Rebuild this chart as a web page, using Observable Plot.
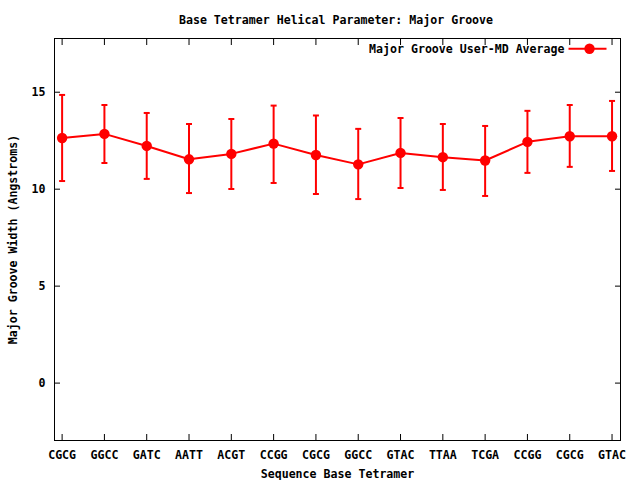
<!DOCTYPE html>
<html>
<head>
<meta charset="utf-8">
<script src="https://cdn.jsdelivr.net/npm/d3@7"></script>
<script src="https://cdn.jsdelivr.net/npm/@observablehq/plot@0.6"></script>
<style>
  html, body { margin: 0; padding: 0; background: #ffffff; }
  #chart svg { display: block; }
</style>
</head>
<body>
<div id="chart"></div>
<script>
const tetramers = ["CGCG","GGCC","GATC","AATT","ACGT","CCGG","CGCG","GGCC","GTAC","TTAA","TCGA","CCGG","CGCG","GTAC"];
const grooveMean = [12.64, 12.85, 12.23, 11.54, 11.82, 12.35, 11.76, 11.28, 11.87, 11.65, 11.48, 12.44, 12.73, 12.73];
const grooveHigh = [14.86, 14.34, 13.93, 13.36, 13.62, 14.31, 13.80, 13.11, 13.67, 13.36, 13.26, 14.04, 14.34, 14.55];
const grooveLow  = [10.42, 11.35, 10.53, 9.80, 10.01, 10.32, 9.75, 9.49, 10.06, 9.96, 9.65, 10.84, 11.15, 10.94];
const yTicks = [0, 5, 10, 15];
const titleText = "Base Tetramer Helical Parameter: Major Groove";
const xLabel = "Sequence Base Tetramer";
const yLabel = "Major Groove Width (Angstroms)";
const seriesName = "Major Groove User-MD Average";

const rows = tetramers.map((t, i) => ({i, t, mean: grooveMean[i], hi: grooveHigh[i], lo: grooveLow[i]}));
const idx = rows.map(d => d.i);

const hline = {
  draw(context, size) {
    const w = Math.sqrt(size / Math.PI);
    context.moveTo(-w, 0);
    context.lineTo(w, 0);
  }
};

const red = "#ff0000";
const font = "'DejaVu Sans Mono', monospace";

const chart = Plot.plot({
  width: 640,
  height: 480,
  marginLeft: 54,
  marginRight: 20,
  marginTop: 38,
  marginBottom: 40,
  style: {fontFamily: font, fontSize: "11.6px", fontWeight: "bold", background: "#ffffff", color: "#000"},
  x: {type: "linear", domain: [-0.18, 13.2]},
  y: {domain: [-2.96, 17.77]},
  marks: [
    Plot.frame({stroke: "#000", strokeWidth: 1}),
    // axes: labels
    Plot.axisX({anchor: "bottom", ticks: idx, tickFormat: i => tetramers[i], tickSize: 0, tickPadding: 10, label: null, fill: "#000"}),
    Plot.axisY({anchor: "left", ticks: yTicks, tickSize: 0, tickPadding: 9, label: null, fill: "#000"}),
    // inward ticks on all four sides
    Plot.axisX({anchor: "bottom", ticks: idx, tickSize: -6, tickFormat: () => "", label: null, stroke: "#000"}),
    Plot.axisX({anchor: "top", ticks: idx, tickSize: -6, tickFormat: () => "", label: null, stroke: "#000"}),
    Plot.axisY({anchor: "left", ticks: yTicks, tickSize: -6, tickFormat: () => "", label: null, stroke: "#000"}),
    Plot.axisY({anchor: "right", ticks: yTicks, tickSize: -6, tickFormat: () => "", label: null, stroke: "#000"}),
    // error bars
    Plot.ruleX(rows, {x: "i", y1: "lo", y2: "hi", stroke: red, strokeWidth: 2}),
    Plot.dot(rows, {x: "i", y: "hi", r: 3, symbol: hline, stroke: red, strokeWidth: 2, fill: "none"}),
    Plot.dot(rows, {x: "i", y: "lo", r: 3, symbol: hline, stroke: red, strokeWidth: 2, fill: "none"}),
    // line + points
    Plot.line(rows, {x: "i", y: "mean", stroke: red, strokeWidth: 2}),
    Plot.dot(rows, {x: "i", y: "mean", r: 5.2, fill: red, stroke: "none"}),
    // legend
    Plot.text([seriesName], {frameAnchor: "top-right", dx: -56, dy: 10.3, textAnchor: "end", lineAnchor: "middle", fill: "#000"}),
    Plot.dot([0], {frameAnchor: "top-right", dx: -33, dy: 10.3, r: 19, symbol: hline, stroke: red, strokeWidth: 2, fill: "none"}),
    Plot.dot([0], {frameAnchor: "top-right", dx: -31, dy: 10.3, r: 5.2, fill: red, stroke: "none"}),
    // titles
    Plot.text([titleText], {frameAnchor: "top", dx: -1.5, dy: -15, lineAnchor: "bottom", fill: "#000"}),
    Plot.text([xLabel], {frameAnchor: "bottom", dy: 37, lineAnchor: "bottom", fill: "#000"}),
    Plot.text([yLabel], {frameAnchor: "left", dx: -41.5, rotate: -90, textAnchor: "middle", lineAnchor: "middle", fill: "#000"})
  ]
});
document.getElementById("chart").appendChild(chart);
</script>
</body>
</html>
